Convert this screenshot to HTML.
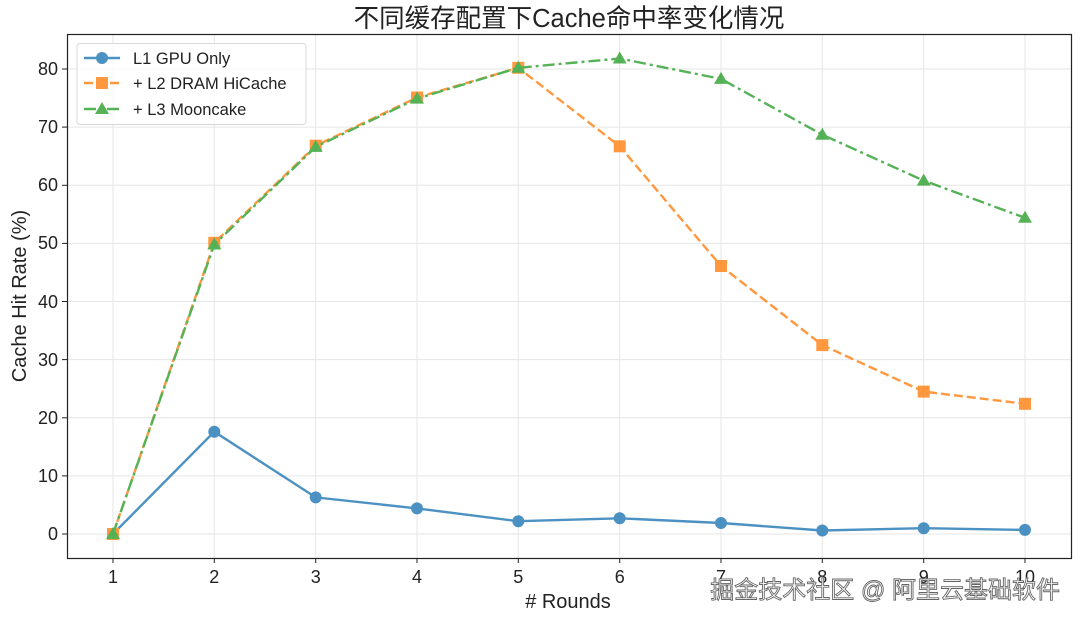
<!DOCTYPE html>
<html><head><meta charset="utf-8"><style>
body{margin:0;background:#fff;}
svg text{font-family:"Liberation Sans","Noto Sans CJK SC",sans-serif;fill:#222;}
</style></head><body>
<svg width="1080" height="621" viewBox="0 0 1080 621" xmlns="http://www.w3.org/2000/svg">
<rect width="1080" height="621" fill="#fff"/>
<g stroke="#e6e6e6" stroke-width="1">
<line x1="113" y1="34" x2="113" y2="558"/><line x1="214.3" y1="34" x2="214.3" y2="558"/><line x1="315.7" y1="34" x2="315.7" y2="558"/><line x1="417" y1="34" x2="417" y2="558"/><line x1="518.3" y1="34" x2="518.3" y2="558"/><line x1="619.7" y1="34" x2="619.7" y2="558"/><line x1="721" y1="34" x2="721" y2="558"/><line x1="822.3" y1="34" x2="822.3" y2="558"/><line x1="923.7" y1="34" x2="923.7" y2="558"/><line x1="1025" y1="34" x2="1025" y2="558"/>
<line x1="67" y1="534" x2="1071" y2="534"/><line x1="67" y1="475.9" x2="1071" y2="475.9"/><line x1="67" y1="417.8" x2="1071" y2="417.8"/><line x1="67" y1="359.6" x2="1071" y2="359.6"/><line x1="67" y1="301.5" x2="1071" y2="301.5"/><line x1="67" y1="243.4" x2="1071" y2="243.4"/><line x1="67" y1="185.3" x2="1071" y2="185.3"/><line x1="67" y1="127.1" x2="1071" y2="127.1"/><line x1="67" y1="69" x2="1071" y2="69"/>
</g>
<rect x="67.5" y="34.5" width="1004" height="524" fill="none" stroke="#222" stroke-width="1.2"/>
<g stroke="#222" stroke-width="1">
<line x1="113" y1="558" x2="113" y2="563"/><line x1="214.3" y1="558" x2="214.3" y2="563"/><line x1="315.7" y1="558" x2="315.7" y2="563"/><line x1="417" y1="558" x2="417" y2="563"/><line x1="518.3" y1="558" x2="518.3" y2="563"/><line x1="619.7" y1="558" x2="619.7" y2="563"/><line x1="721" y1="558" x2="721" y2="563"/><line x1="822.3" y1="558" x2="822.3" y2="563"/><line x1="923.7" y1="558" x2="923.7" y2="563"/><line x1="1025" y1="558" x2="1025" y2="563"/>
<line x1="62" y1="534" x2="67" y2="534"/><line x1="62" y1="475.9" x2="67" y2="475.9"/><line x1="62" y1="417.8" x2="67" y2="417.8"/><line x1="62" y1="359.6" x2="67" y2="359.6"/><line x1="62" y1="301.5" x2="67" y2="301.5"/><line x1="62" y1="243.4" x2="67" y2="243.4"/><line x1="62" y1="185.3" x2="67" y2="185.3"/><line x1="62" y1="127.1" x2="67" y2="127.1"/><line x1="62" y1="69" x2="67" y2="69"/>
</g>
<g font-size="18" text-anchor="middle">
<text x="113" y="583">1</text><text x="214.3" y="583">2</text><text x="315.7" y="583">3</text><text x="417" y="583">4</text><text x="518.3" y="583">5</text><text x="619.7" y="583">6</text><text x="721" y="583">7</text><text x="822.3" y="583">8</text><text x="923.7" y="583">9</text><text x="1025" y="583">10</text>
</g>
<g font-size="18" text-anchor="end">
<text x="58" y="540">0</text><text x="58" y="482">10</text><text x="58" y="424">20</text><text x="58" y="366">30</text><text x="58" y="308">40</text><text x="58" y="249">50</text><text x="58" y="191">60</text><text x="58" y="133">70</text><text x="58" y="75">80</text>
</g>
<text x="568" y="608" font-size="20" text-anchor="middle"># Rounds</text>
<text transform="translate(26,296) rotate(-90)" font-size="20" text-anchor="middle">Cache Hit Rate (%)</text>
<text x="569" y="27" font-size="25.5" text-anchor="middle">不同缓存配置下Cache命中率变化情况</text>

<g opacity="0.8">
<polyline fill="none" stroke="#1f77b4" stroke-width="2.4" points="113,534 214.3,431.7 315.7,497.4 417,508.4 518.3,521.2 619.7,518.3 721,523 822.3,530.5 923.7,528.2 1025,529.9"/>
<g fill="#1f77b4"><circle cx="113" cy="534" r="6"/><circle cx="214.3" cy="431.7" r="6"/><circle cx="315.7" cy="497.4" r="6"/><circle cx="417" cy="508.4" r="6"/><circle cx="518.3" cy="521.2" r="6"/><circle cx="619.7" cy="518.3" r="6"/><circle cx="721" cy="523" r="6"/><circle cx="822.3" cy="530.5" r="6"/><circle cx="923.7" cy="528.2" r="6"/><circle cx="1025" cy="529.9" r="6"/></g>
<polyline fill="none" stroke="#ff7f0e" stroke-width="2.4" stroke-dasharray="9,4" points="113,534 214.3,242.8 315.7,145.7 417,97.5 518.3,67.8 619.7,146.3 721,266 822.3,345.1 923.7,391.6 1025,403.8"/>
<g fill="#ff7f0e"><rect x="107" y="528" width="12" height="12"/><rect x="208.3" y="236.8" width="12" height="12"/><rect x="309.7" y="139.7" width="12" height="12"/><rect x="411" y="91.5" width="12" height="12"/><rect x="512.3" y="61.8" width="12" height="12"/><rect x="613.7" y="140.3" width="12" height="12"/><rect x="715" y="260" width="12" height="12"/><rect x="816.3" y="339.1" width="12" height="12"/><rect x="917.7" y="385.6" width="12" height="12"/><rect x="1019" y="397.8" width="12" height="12"/></g>
<polyline fill="none" stroke="#2ca02c" stroke-width="2.4" stroke-dasharray="12,4,3,4" points="113,534 214.3,244.5 315.7,146.9 417,98.6 518.3,67.8 619.7,58.5 721,78.9 822.3,134.7 923.7,180.6 1025,217.8"/>
<g fill="#2ca02c">
<polygon points="113,527 120,539 106,539"/><polygon points="214.3,237.5 221.3,249.5 207.3,249.5"/><polygon points="315.7,139.9 322.7,151.9 308.7,151.9"/><polygon points="417,91.6 424,103.6 410,103.6"/><polygon points="518.3,60.8 525.3,72.8 511.3,72.8"/><polygon points="619.7,51.5 626.7,63.5 612.7,63.5"/><polygon points="721,71.9 728,83.9 714,83.9"/><polygon points="822.3,127.7 829.3,139.7 815.3,139.7"/><polygon points="923.7,173.6 930.7,185.6 916.7,185.6"/><polygon points="1025,210.8 1032,222.8 1018,222.8"/>
</g>
</g>

<rect x="77" y="43.5" width="229" height="81" rx="3" fill="#fff" fill-opacity="0.8" stroke="#d8d8d8"/>
<g opacity="0.8">
<line x1="84" y1="58" x2="120" y2="58" stroke="#1f77b4" stroke-width="2.4"/><circle cx="102" cy="58" r="6" fill="#1f77b4"/>
<line x1="84" y1="83" x2="120" y2="83" stroke="#ff7f0e" stroke-width="2.4" stroke-dasharray="9,4"/><rect x="96" y="77" width="12" height="12" fill="#ff7f0e"/>
<line x1="84" y1="109" x2="120" y2="109" stroke="#2ca02c" stroke-width="2.4" stroke-dasharray="12,4,3,4"/><polygon points="102,102 109,114 95,114" fill="#2ca02c"/>
</g>
<g font-size="16.5">
<text x="133" y="64">L1 GPU Only</text>
<text x="133" y="89">+ L2 DRAM HiCache</text>
<text x="133" y="115">+ L3 Mooncake</text>
</g>
<text x="1060" y="598" font-size="24" text-anchor="end" style="fill:#fff;stroke:#666;stroke-width:0.9;">掘金技术社区 @ 阿里云基础软件</text>
</svg>
</body></html>
